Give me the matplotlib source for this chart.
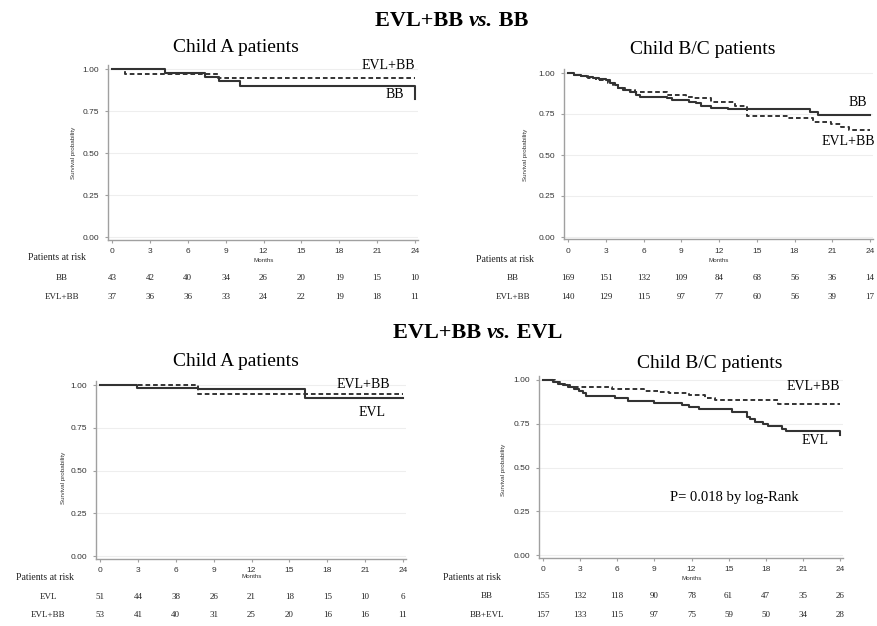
import matplotlib
matplotlib.use('Agg')
import matplotlib.pyplot as plt
from matplotlib.transforms import blended_transform_factory

plt.rcParams['font.family'] = ['Liberation Serif', 'DejaVu Serif']

W, H = 877, 626
months = [0, 3, 6, 9, 12, 15, 18, 21, 24]
yticks = [0.0, 0.25, 0.50, 0.75, 1.00]

# --- top left: Child A, EVL+BB vs BB
a1_bb_t = [0, 4.2, 7.4, 8.5, 10.1, 24]
a1_bb_s = [1.0, 0.977, 0.953, 0.928, 0.900, 0.820]
a1_evlbb_t = [0, 1.0, 8.4, 24]
a1_evlbb_s = [1.0, 0.973, 0.946, 0.946]
a1_risk_bb = [43, 42, 40, 34, 26, 20, 19, 15, 10]
a1_risk_evlbb = [37, 36, 36, 33, 24, 22, 19, 18, 11]

# --- top right: Child B/C, EVL+BB vs BB
b1_bb_t = [0, 0.5, 1.0, 1.5, 2.0, 2.5, 3.0, 3.3, 3.7, 4.0, 4.4, 4.9, 5.4, 5.7,
           7.9, 8.3, 9.6, 10.2, 10.6, 11.4, 12.7, 19.2, 19.9, 24]
b1_bb_s = [1.0, 0.99, 0.983, 0.975, 0.968, 0.963, 0.955, 0.94, 0.925, 0.91, 0.895,
           0.885, 0.868, 0.855, 0.845, 0.837, 0.826, 0.815, 0.80, 0.788, 0.778,
           0.762, 0.746, 0.746]
b1_evlbb_t = [0, 0.5, 1.0, 1.6, 2.2, 2.7, 3.2, 3.6, 4.0, 4.5, 5.3, 7.9, 9.4, 10.0,
              11.4, 13.3, 14.2, 17.5, 19.5, 20.9, 21.7, 22.3, 24]
b1_evlbb_s = [1.0, 0.99, 0.982, 0.972, 0.96, 0.955, 0.94, 0.925, 0.91, 0.895, 0.882,
              0.868, 0.856, 0.845, 0.826, 0.80, 0.738, 0.725, 0.70, 0.69, 0.672,
              0.655, 0.655]
b1_risk_bb = [169, 151, 132, 109, 84, 68, 56, 36, 14]
b1_risk_evlbb = [140, 129, 115, 97, 77, 60, 56, 39, 17]

# --- bottom left: Child A, EVL+BB vs EVL
a2_evl_t = [0, 2.9, 7.8, 16.2, 24]
a2_evl_s = [1.0, 0.98, 0.975, 0.922, 0.922]
a2_evlbb_t = [0, 7.8, 24]
a2_evlbb_s = [1.0, 0.946, 0.946]
a2_risk_evl = [51, 44, 38, 26, 21, 18, 15, 10, 6]
a2_risk_evlbb = [53, 41, 40, 31, 25, 20, 16, 16, 11]

# --- bottom right: Child B/C, EVL+BB vs EVL
b2_evl_t = [0, 0.8, 1.2, 1.6, 2.0, 2.5, 2.9, 3.2, 3.5, 5.8, 6.9, 9.0, 11.2, 11.8,
            12.6, 15.3, 16.5, 16.7, 17.1, 17.8, 18.2, 19.3, 19.6, 24]
b2_evl_s = [1.0, 0.99, 0.98, 0.97, 0.96, 0.95, 0.94, 0.925, 0.91, 0.895, 0.88,
            0.866, 0.855, 0.845, 0.833, 0.82, 0.79, 0.775, 0.76, 0.75, 0.738,
            0.72, 0.706, 0.683]
b2_evlbb_t = [0, 1.0, 1.4, 1.8, 2.2, 5.6, 8.2, 9.3, 10.2, 11.8, 13.1, 13.9, 19.0, 24]
b2_evlbb_s = [1.0, 0.99, 0.98, 0.97, 0.962, 0.948, 0.94, 0.933, 0.923, 0.913,
              0.898, 0.885, 0.862, 0.862]
b2_risk_bb = [155, 132, 118, 90, 78, 61, 47, 35, 26]
b2_risk_bbevl = [157, 133, 115, 97, 75, 59, 50, 34, 28]

fig = plt.figure(figsize=(W / 100, H / 100), dpi=100)
XLIM = (-0.35, 24.25)
YLIM = (-0.015, 1.025)
LINE_C = '#333333'


def fy(ypx):
    return 1 - ypx / H


def make_axes(x0, x24, y0, y1):
    # pixel positions of month 0 / 24 and of survival 0 / 1
    ppm = (x24 - x0) / 24.0
    ppu = float(y0 - y1)
    left = x0 + XLIM[0] * ppm
    right = x0 + XLIM[1] * ppm
    bottom = y0 - YLIM[0] * ppu
    top = y0 - YLIM[1] * ppu
    ax = fig.add_axes([left / W, 1 - bottom / H, (right - left) / W, (bottom - top) / H])
    ax.set_xlim(*XLIM)
    ax.set_ylim(*YLIM)
    for s in ['top', 'right']:
        ax.spines[s].set_visible(False)
    for s in ['left', 'bottom']:
        ax.spines[s].set_color('#a0a0a0')
        ax.spines[s].set_linewidth(1.0)
    ax.set_xticks(months)
    ax.set_yticks(yticks)
    ax.set_yticklabels(['0.00', '0.25', '0.50', '0.75', '1.00'])
    ax.tick_params(colors='#a0a0a0', length=2.5, width=0.8, labelsize=6,
                   labelcolor='#333333', pad=3.5)
    for lab in ax.get_xticklabels() + ax.get_yticklabels():
        lab.set_family(['Liberation Sans', 'DejaVu Sans'])
    ax.yaxis.grid(True, color='#eeeeee', lw=0.8)
    ax.set_axisbelow(True)
    return ax


def curves(ax, t_solid, s_solid, t_dash, s_dash):
    ax.step(t_dash, s_dash, where='post', color=LINE_C, lw=1.4, ls=(0, (2.4, 1.5)))
    ax.step(t_solid, s_solid, where='post', color=LINE_C, lw=1.5)


def risk_table(ax, ylab_px, xlab_px, yrow_px, names, rows, months_px, head_x):
    tr = blended_transform_factory(ax.transData, fig.transFigure)
    ax.text(12, fy(months_px), 'Months', transform=tr, ha='center', va='center',
            fontsize=4.5, color='#333333', family=['Liberation Sans', 'DejaVu Sans'])
    fig.text(head_x / W, fy(ylab_px), 'Patients at risk', ha='center', va='center',
             fontsize=7, color='#222222')
    for name, row, ypx in zip(names, rows, yrow_px):
        fig.text(xlab_px / W, fy(ypx), name, ha='center', va='center', fontsize=6.5,
                 color='#222222')
        for m, n in zip(months, row):
            ax.text(m, fy(ypx), str(n), transform=tr, ha='center', va='center',
                    fontsize=6.5, color='#222222')


def ylabel(xpx, ypx):
    fig.text(xpx / W, fy(ypx), 'Survival probability', rotation=90, ha='center',
             va='center', fontsize=4.5, color='#333333',
             family=['Liberation Sans', 'DejaVu Sans'])


# overlay axes for the group titles
ov = fig.add_axes([0, 0, 1, 1])
ov.axis('off')


def group_title(x_mid_px, y_px, left, right):
    mid = ov.text(x_mid_px / W, fy(y_px), 'vs.', ha='center', va='center',
                  fontsize=16, fontweight='bold', style='italic')
    ov.annotate(left + ' ', xy=(0, 0.5), xycoords=mid, ha='right', va='center',
                fontsize=16, fontweight='bold')
    ov.annotate(' ' + right, xy=(1, 0.5), xycoords=mid, ha='left', va='center',
                fontsize=16, fontweight='bold')


group_title(481, 21, 'EVL+BB', 'BB')
group_title(499, 333, 'EVL+BB', 'EVL')

# top left
ax1 = make_axes(112, 415, 237, 69)
curves(ax1, a1_bb_t, a1_bb_s, a1_evlbb_t, a1_evlbb_s)
fig.text(236 / W, fy(48), 'Child A patients', ha='center', va='center', fontsize=14)
ax1.text(24, 0.985, 'EVL+BB', ha='right', va='bottom', fontsize=10)
ax1.text(23.1, 0.81, 'BB', ha='right', va='bottom', fontsize=10)
risk_table(ax1, 258, 62, [278, 297], ['BB', 'EVL+BB'], [a1_risk_bb, a1_risk_evlbb], 260, 57)
ylabel(74, 153)

# top right
ax2 = make_axes(568, 870, 237, 73)
curves(ax2, b1_bb_t, b1_bb_s, b1_evlbb_t, b1_evlbb_s)
fig.text(703 / W, fy(50), 'Child B/C patients', ha='center', va='center', fontsize=14)
ax2.text(23.8, 0.78, 'BB', ha='right', va='bottom', fontsize=10)
ax2.text(24.4, 0.54, 'EVL+BB', ha='right', va='bottom', fontsize=10)
risk_table(ax2, 259, 513, [278, 297], ['BB', 'EVL+BB'], [b1_risk_bb, b1_risk_evlbb], 260, 505)
ylabel(526, 155)

# bottom left
ax3 = make_axes(100, 403, 556, 385)
curves(ax3, a2_evl_t, a2_evl_s, a2_evlbb_t, a2_evlbb_s)
fig.text(236 / W, fy(361), 'Child A patients', ha='center', va='center', fontsize=14)
ax3.text(23.0, 0.965, 'EVL+BB', ha='right', va='bottom', fontsize=10)
ax3.text(22.6, 0.80, 'EVL', ha='right', va='bottom', fontsize=10)
risk_table(ax3, 578, 48, [597, 615], ['EVL', 'EVL+BB'], [a2_risk_evl, a2_risk_evlbb], 577, 45)
ylabel(63, 478)

# bottom right
ax4 = make_axes(543, 840, 555, 380)
curves(ax4, b2_evl_t, b2_evl_s, b2_evlbb_t, b2_evlbb_s)
fig.text(710 / W, fy(364), 'Child B/C patients', ha='center', va='center', fontsize=14)
ax4.text(24, 0.925, 'EVL+BB', ha='right', va='bottom', fontsize=10)
ax4.text(23.1, 0.615, 'EVL', ha='right', va='bottom', fontsize=10)
ax4.text(10.3, 0.33, 'P= 0.018 by log-Rank', ha='left', va='center', fontsize=10.5)
risk_table(ax4, 578, 487, [596, 615], ['BB', 'BB+EVL'], [b2_risk_bb, b2_risk_bbevl], 578, 472)
ylabel(503, 470)

fig.savefig('out.png', dpi=100, facecolor='white')
